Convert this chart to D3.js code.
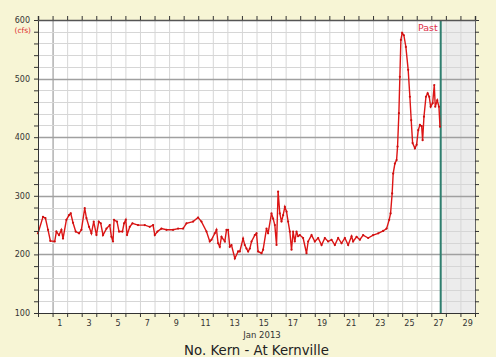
<!DOCTYPE html>
<html><head><meta charset="utf-8">
<script src="https://cdn.jsdelivr.net/npm/d3@7"></script>
<style>
html,body{margin:0;padding:0;background:#f7f5d5;}
svg{display:block;font-family:"DejaVu Sans",sans-serif;}
</style></head><body>
<svg id="chart" width="496" height="357"></svg>
<script>
// Hours after 2012-12-31 00:00 and flow (cfs)
const hours = [0,8.2,12.2,16.5,20.4,27.5,30.3,34.6,38.6,41.2,46.8,51.1,53.9,57.7,62.1,67.6,71.5,77.0,79.8,84.1,88.0,91.8,96.3,100.1,103.4,107.1,112.8,118.2,121.0,123.6,125.3,130.2,133.5,139.1,141.8,144.6,146.7,151.2,155.6,164.8,175.9,184.1,189.6,192.4,196.8,203.4,211.7,222.5,230.8,239.0,244.6,255.5,263.7,269.3,277.6,283.0,285.8,291.3,294.1,296.7,299.5,302.3,307.8,310.6,313.2,316.0,318.8,324.3,329.7,332.5,337.9,340.7,343.5,346.2,349.0,351.8,357.2,360.0,362.6,368.3,370.9,376.5,379.1,384.7,387.4,390.2,393.0,395.6,398.4,401.2,403.9,406.7,409.5,412.1,414.9,417.7,420.3,423.1,425.9,428.6,431.4,436.8,442.4,445.1,450.7,456.1,461.6,467.2,472.6,478.0,483.6,489.1,494.5,500.1,505.6,511.0,516.6,519.2,524.9,530.3,535.7,544.0,552.2,560.5,568.7,574.3,578.6,580.9,583.5,585.2,588.0,590.8,592.4,594.6,596.2,597.9,600.0,602.8,606.1,609.9,612.7,614.9,617.2,621.0,623.8,626.5,629.3,632.1,633.7,635.9,639.2,642.0,644.6,646.9,650.2,652.9,654.5,657.8,660.6,662.3];
const flows = [236,264,262,242,223,222,239,233,242,227,259,267,270,254,239,236,242,279,262,247,236,256,233,256,253,233,244,250,230,222,259,256,239,239,253,259,233,247,253,250,250,247,250,233,239,244,242,242,244,244,253,256,263,256,239,222,225,236,242,219,213,230,222,242,242,213,216,193,205,205,227,216,210,205,210,222,233,236,205,202,208,244,236,270,261,250,216,307,270,256,267,281,273,256,239,208,239,222,239,231,233,228,202,222,233,222,228,216,228,222,225,216,228,219,228,216,231,222,230,225,233,228,233,236,240,244,259,270,304,338,355,361,384,441,503,566,578,574,554,515,469,429,390,381,387,412,421,419,395,435,469,475,469,452,458,489,452,463,452,418];
const yTicks = [100,200,300,400,500,600];
const xLabelDays = [1,3,5,7,9,11,13,15,17,19,21,23,25,27,29];
const nowHour = 663.5;
const title = "No. Kern - At Kernville";
const xTitle = "Jan 2013";
const unitLabel = "(cfs)";

const W=496,H=357, m={l:38,r:21,t:20,b:44};
const svg=d3.select("#chart");
const t0=Date.UTC(2012,11,31);
const H2D = h=>new Date(t0+h*3600e3);
const x=d3.scaleUtc().domain([new Date(t0), new Date(Date.UTC(2013,0,30))]).range([m.l,W-m.r]);
const y=d3.scaleLinear().domain([100,600]).range([H-m.b,m.t]);
const data=hours.map((h,i)=>({d:H2D(h),v:flows[i]}));

// plot bg
svg.append("rect").attr("x",m.l).attr("y",m.t).attr("width",W-m.l-m.r).attr("height",H-m.t-m.b).attr("fill","#fff");
// future shade
svg.append("rect").attr("x",x(H2D(nowHour))).attr("y",m.t).attr("width",W-m.r-x(H2D(nowHour))).attr("height",H-m.t-m.b).attr("fill","#ececec");

const days=d3.utcDay.range(new Date(t0), new Date(Date.UTC(2013,0,30,1)));
const minorY=d3.range(120,600,20).filter(v=>v%100!==0);
const g=svg.append("g");
g.selectAll(".vg").data(days).join("line")
 .attr("x1",d=>x(d)+0.5).attr("x2",d=>x(d)+0.5).attr("y1",m.t).attr("y2",H-m.b)
 .attr("stroke",d=>(d.getUTCDate()===1)?"#8a8a8a":"#d6d6d6").attr("stroke-width",1);
g.selectAll(".hg").data(minorY).join("line")
 .attr("x1",m.l).attr("x2",W-m.r).attr("y1",d=>Math.round(y(d))+0.5).attr("y2",d=>Math.round(y(d))+0.5)
 .attr("stroke","#d6d6d6");
g.selectAll(".hm").data(yTicks.slice(1,-1)).join("line")
 .attr("x1",m.l).attr("x2",W-m.r).attr("y1",d=>Math.round(y(d))+0.5).attr("y2",d=>Math.round(y(d))+0.5)
 .attr("stroke","#a0a0a0").attr("stroke-width",1.5);

// now line
svg.append("line").attr("x1",x(H2D(nowHour))).attr("x2",x(H2D(nowHour))).attr("y1",m.t).attr("y2",H-m.b)
 .attr("stroke","#2f7f6f").attr("stroke-width",2);
svg.append("text").attr("x",x(H2D(nowHour))-3).attr("y",m.t+11).attr("text-anchor","end")
 .attr("font-size",9.5).attr("fill","#e0304a").text("Past");

// data
const line=d3.line().x(d=>x(d.d)).y(d=>y(d.v));
svg.append("path").datum(data).attr("d",line).attr("fill","none").attr("stroke","#dd1515").attr("stroke-width",1.4);
svg.selectAll(".pt").data(data).join("circle").attr("cx",d=>x(d.d)).attr("cy",d=>y(d.v)).attr("r",1.1).attr("fill","#cc1010");

// axes
const allY=d3.range(100,601,20);
const axL=svg.append("g").attr("transform",`translate(${m.l},0)`)
 .call(d3.axisLeft(y).tickValues(allY).tickSize(4).tickFormat(d=>d%100===0?d:""));
const axR=svg.append("g").attr("transform",`translate(${W-m.r},0)`)
 .call(d3.axisRight(y).tickValues(allY).tickSize(4).tickFormat(""));
const axT=svg.append("g").attr("transform",`translate(0,${m.t})`)
 .call(d3.axisTop(x).tickValues(days).tickSize(4).tickFormat(""));
const axB=svg.append("g").attr("transform",`translate(0,${H-m.b})`)
 .call(d3.axisBottom(x).tickValues(days).tickSize(4).tickFormat(""));
[axL,axR,axT,axB].forEach(a=>{a.selectAll("path").attr("stroke","#333");a.selectAll("line").attr("stroke","#333");
 a.selectAll("text").attr("fill","#333").attr("font-size",8).attr("font-family","DejaVu Sans, sans-serif");});
axL.selectAll("text").attr("dx",-1);
axR.select("path").attr("stroke","#666");
axT.select("path").attr("stroke","#555").attr("stroke-width",1.5);

svg.append("g").selectAll("text").data(xLabelDays).join("text")
 .attr("x",d=>x(new Date(Date.UTC(2013,0,d,12)))).attr("y",H-m.b+13).attr("text-anchor","middle")
 .attr("font-size",8).attr("fill","#333").text(d=>d);

svg.append("text").attr("x",31).attr("y",33).attr("text-anchor","end").attr("font-size",7.5).attr("fill","#e03030").text(unitLabel);
svg.append("text").attr("x",262).attr("y",338).attr("text-anchor","middle").attr("font-size",8.5).attr("fill","#333").text(xTitle);
svg.append("text").attr("x",256.5).attr("y",355).attr("text-anchor","middle").attr("font-size",13.3).attr("fill","#222").text(title);
</script></body></html>
